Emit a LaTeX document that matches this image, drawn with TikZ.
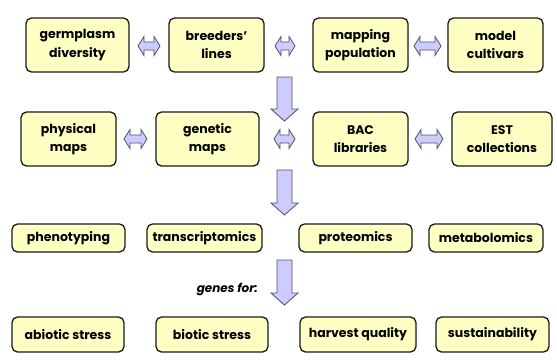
\documentclass[tikz,border=0pt]{standalone}
\usepackage{fontspec}
\setmainfont{Poppins}
\usetikzlibrary{calc}
\definecolor{boxfill}{RGB}{255,255,196}
\definecolor{boxline}{RGB}{25,25,25}
\definecolor{arrfill}{RGB}{204,204,255}
\definecolor{arrline}{RGB}{80,80,105}
\tikzset{
  bx/.style={draw=boxline, fill=boxfill, line width=1.3pt, rounded corners=5.5pt,
    align=center, inner sep=0pt, font=\bfseries\fontsize{12.5}{18.5}\selectfont, text=black},
  blockarrow/.style={draw=arrline, fill=arrfill, line width=0.8pt, line join=miter}
}
\newcommand{\dblarr}[3]{% x1 x2 y
  \draw[blockarrow] (#1,#3) -- (#1+6,#3-9.5) -- (#1+6,#3-4) -- (#2-6,#3-4) -- (#2-6,#3-9.5)
    -- (#2,#3) -- (#2-6,#3+9.5) -- (#2-6,#3+4) -- (#1+6,#3+4) -- (#1+6,#3+9.5) -- cycle;}
\newcommand{\downarr}[3]{% x y1 y2
  \draw[blockarrow] (#1-7.5,#2) -- (#1+7.5,#2) -- (#1+7.5,#3-12) -- (#1+13.5,#3-12) -- (#1,#3)
    -- (#1-13.5,#3-12) -- (#1-7.5,#3-12) -- cycle;}
\begin{document}
\begin{tikzpicture}[x=1pt,y=-1pt]
\fill[white] (0,0) rectangle (557,360);
\useasboundingbox (0,0) rectangle (557,360);
% row 1
\node[bx, minimum width=103pt, minimum height=54pt] (germ) at (77.5,45) {germplasm\\diversity};
\node[bx, minimum width=95pt, minimum height=54pt] (breed) at (216.5,45) {breeders'\\lines};
\node[bx, minimum width=95pt, minimum height=54pt] (mapp) at (360.5,45) {mapping\\population};
\node[bx, minimum width=95pt, minimum height=54pt] (model) at (495.5,45) {model\\cultivars};
% row 2
\node[bx, minimum width=95pt, minimum height=54pt] (phys) at (68.5,139) {physical\\maps};
\node[bx, minimum width=103pt, minimum height=54pt] (gen) at (207.5,139) {genetic\\maps};
\node[bx, minimum width=95pt, minimum height=54pt] (bac) at (360.5,139) {BAC\\libraries};
\node[bx, minimum width=100pt, minimum height=54pt] (est) at (502,139) {EST\\collections};
% row 3
\node[bx, minimum width=113pt, minimum height=28pt] (pheno) at (68.5,238) {phenotyping};
\node[bx, minimum width=115pt, minimum height=28pt] (trans) at (204.5,238) {transcriptomics};
\node[bx, minimum width=113pt, minimum height=28pt] (prot) at (355.5,238) {proteomics};
\node[bx, minimum width=114pt, minimum height=28pt] (metab) at (486,238) {metabolomics};
% row 4
\node[bx, minimum width=112pt, minimum height=35pt] (abio) at (68,334.5) {abiotic stress};
\node[bx, minimum width=112pt, minimum height=35pt] (bio) at (212,334.5) {biotic stress};
\node[bx, minimum width=116pt, minimum height=35pt] (harv) at (358,334.5) {harvest quality};
\node[bx, minimum width=113pt, minimum height=35pt] (sust) at (492.5,334.5) {sustainability};
% label
\node[anchor=east, inner sep=0pt, font=\bfseries\itshape\fontsize{12}{14}\selectfont] (genes) at (258,289) {genes for:};
% double arrows
\dblarr{138}{160}{46}
\dblarr{275}{295}{46}
\dblarr{414}{441}{46}
\dblarr{124}{147}{139}
\dblarr{274}{295}{139}
\dblarr{415}{443}{139}
% down arrows
\downarr{284.5}{77}{121}
\downarr{284.5}{170}{215}
\downarr{284.5}{260}{305}
\end{tikzpicture}
\end{document}
